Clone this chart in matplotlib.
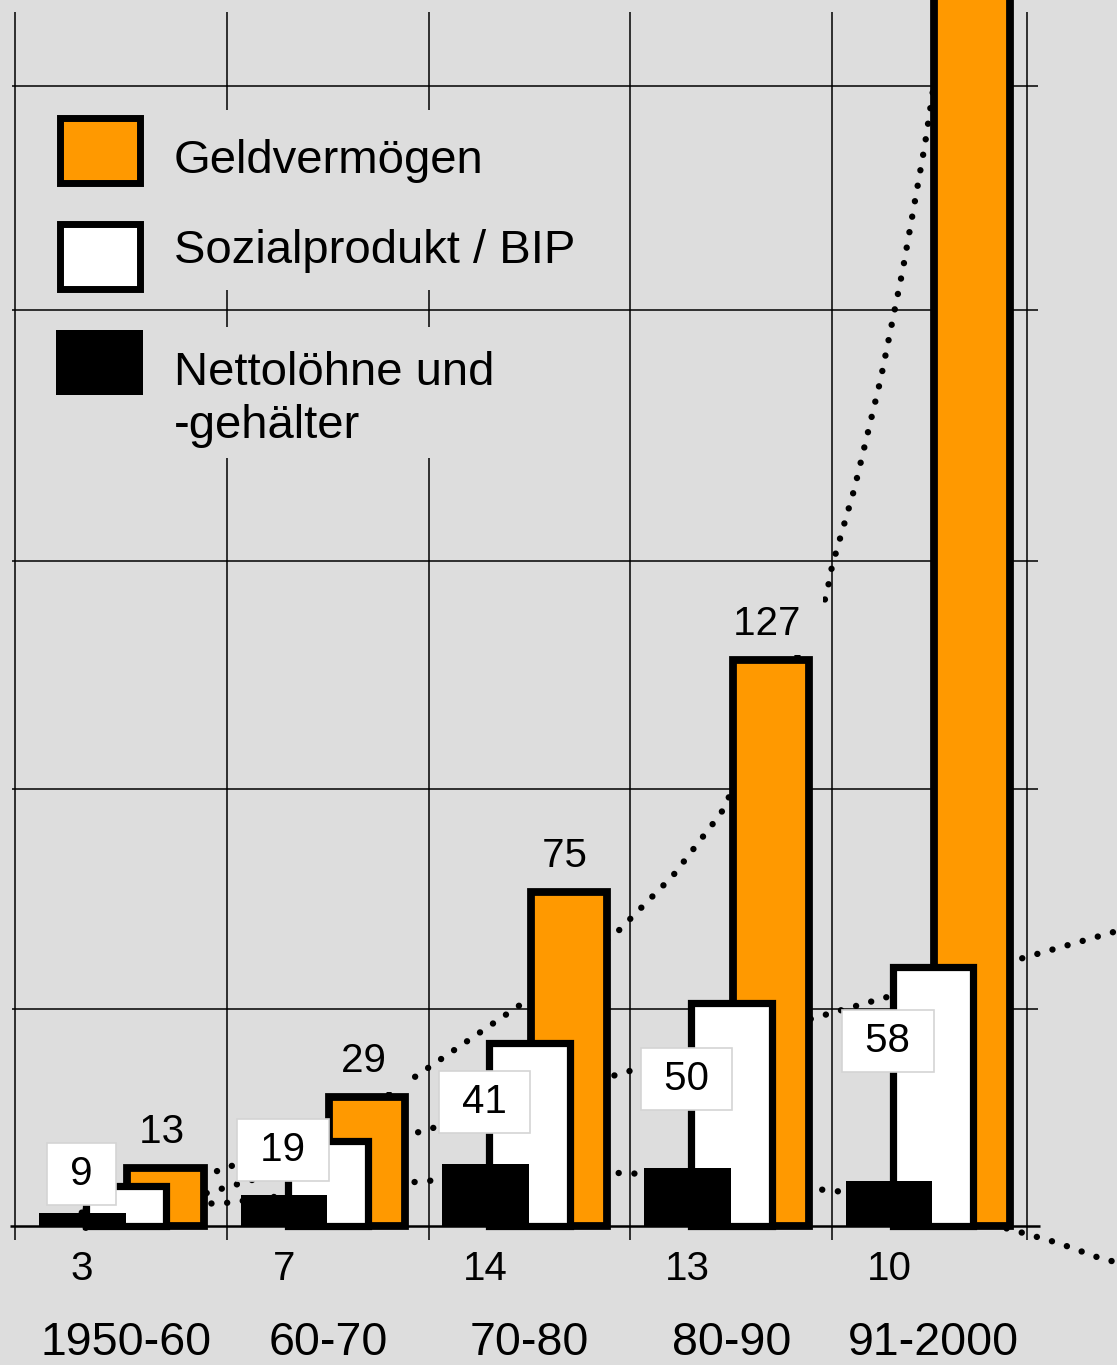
import numpy as np
import matplotlib
matplotlib.use("Agg")
import matplotlib.pyplot as plt
from matplotlib.patches import Rectangle
from matplotlib.transforms import Affine2D

plt.rcParams['font.family'] = ['Liberation Sans', 'DejaVu Sans']

# Daten ---------------------------------------------------------------
periods = ['1950-60', '60-70', '70-80', '80-90', '91-2000']
geldvermoegen = [13, 29, 75, 127, 330]      # letzter Balken laeuft oben aus dem Bild
sozialprodukt = [9, 19, 41, 50, 58]
nettoloehne = [3, 7, 14, 13, 10]

# punktierte Trendkurven (x in Kategorie-Einheiten)
trend_geld_x = [-0.22, 0.5, 1.27, 1.46, 1.99, 2.43, 2.71, 2.95, 3.47, 3.50, 3.61, 3.74, 3.85, 3.96, 4.10]
trend_geld_y = [3.0, 13.0, 28.5, 34.3, 50.7, 65.7, 78.5, 92.6, 141.0, 148.0, 165.2, 189.7, 214.3, 242.4, 285.0]
trend_sozial_x = [-0.2, 0.5, 1.5, 2.5, 3.5, 4.91]
trend_sozial_y = [-0.4, 8.7, 21.7, 34.8, 47.8, 66.1]
trend_netto_x = [-0.2, 0.5, 0.73, 1.48, 2.43, 2.75, 3.46, 3.61, 4.38, 4.62, 4.84, 4.91]
trend_netto_y = [3.8, 5.2, 6.5, 10.1, 11.9, 11.4, 8.1, 7.4, -0.7, -3.8, -7.4, -8.1]

# Hoehe der weissen Beschriftungskaestchen
label_y_sozial = [11.7, 17.0, 27.8, 32.9, 41.4]

# Farben / Layout -----------------------------------------------------
bg = '#dddddd'
orange = '#ff9900'
W, H = 1117, 1365

fig = plt.figure(figsize=(W / 100, H / 100), dpi=100)
fig.patch.set_facecolor(bg)
ax = fig.add_axes([0, 0, 1, 1])
ax.set_axis_off()
ax.set_xlim((0 - 227) / 201.7 + 0.5, (W - 227) / 201.7 + 0.5)
ax.set_ylim((1226 - H) / 4.46, 1226 / 4.46)

# Bildpixel (y nach unten) fuer Legende
pix = Affine2D().scale(1, -1).translate(0, H)

# Gitter
grid_y = [48.7, 98.0, 149.1, 205.4, 255.6]
grid_x = [-0.551, 0.5, 1.5, 2.5, 3.5, 4.466]
ax.hlines(grid_y, -0.566, 4.521, color='black', lw=1.1, zorder=1)
ax.hlines(0, -0.576, 4.531, color='black', lw=1.8, zorder=1)
ax.vlines(grid_x, -3.1, 272.2, color='black', lw=1.1, zorder=1)

# Trendlinien (punktiert)
dots = dict(color='black', lw=4.6, linestyle=(0, (0.01, 2.45)),
            dash_capstyle='round', zorder=2)
ax.plot(trend_geld_x, trend_geld_y, **dots)
ax.plot(trend_sozial_x, trend_sozial_y, **dots)
ax.plot(trend_netto_x, trend_netto_y, **dots)

# Balken
x = np.arange(len(periods))
ax.bar(x + 0.195, geldvermoegen, width=0.377, color=orange,
       edgecolor='black', linewidth=5.6, zorder=3)
ax.bar(x, sozialprodukt, width=0.40, color='white',
       edgecolor='black', linewidth=5.2, zorder=4)
ax.bar(x - 0.218, nettoloehne, width=0.43, color='black',
       linewidth=0, zorder=5)

# Beschriftungen
for i, v in enumerate(geldvermoegen):
    if v < 260:
        ax.text(x[i] + 0.175, v + 5.5, ' %d ' % v, ha='center', va='baseline',
                fontsize=29, zorder=6,
                bbox=dict(boxstyle='square,pad=0.3', fc=bg, ec='none'))

for i, v in enumerate(sozialprodukt):
    ax.text(x[i] - 0.223, label_y_sozial[i], ' %d ' % v, ha='center', va='center',
            fontsize=29, zorder=6,
            bbox=dict(boxstyle='square,pad=0.3', fc='white', ec='#d4d4d4', lw=1.2))

for i, v in enumerate(nettoloehne):
    ax.text(x[i] - 0.218, -12.1, str(v), ha='center', va='baseline', fontsize=29)

for i, p in enumerate(periods):
    ax.text(x[i], -28.9, p, ha='center', va='baseline', fontsize=33.5)

# Legende (manuell, zwei graue Kaesten ueber dem Gitter)
ax.add_patch(Rectangle((18, 110), 582, 180, transform=pix, fc=bg, ec='none', zorder=7))
ax.add_patch(Rectangle((18, 327), 582, 131, transform=pix, fc=bg, ec='none', zorder=7))
ax.add_patch(Rectangle((59.5, 117.5), 80, 65, transform=pix, fc=orange,
                       ec='black', lw=5.0, zorder=8))
ax.add_patch(Rectangle((59.5, 223.5), 80, 65, transform=pix, fc='white',
                       ec='black', lw=5.0, zorder=8))
ax.add_patch(Rectangle((56, 330), 87, 65, transform=pix, fc='black',
                       ec='none', zorder=8))

ax.text(174, 173, 'Geldvermögen', transform=pix, fontsize=34, va='baseline', zorder=9)
ax.text(174, 263, 'Sozialprodukt / BIP', transform=pix, fontsize=34, va='baseline', zorder=9)
ax.text(174, 385, 'Nettolöhne und', transform=pix, fontsize=34, va='baseline', zorder=9)
t = ax.text(174, 438, '-gehälter', transform=pix, fontsize=34, va='baseline', zorder=9)
t.set_clip_path(Rectangle((0, 327), 700, 118, transform=pix))

fig.savefig('out.png', dpi=100, facecolor=bg)
